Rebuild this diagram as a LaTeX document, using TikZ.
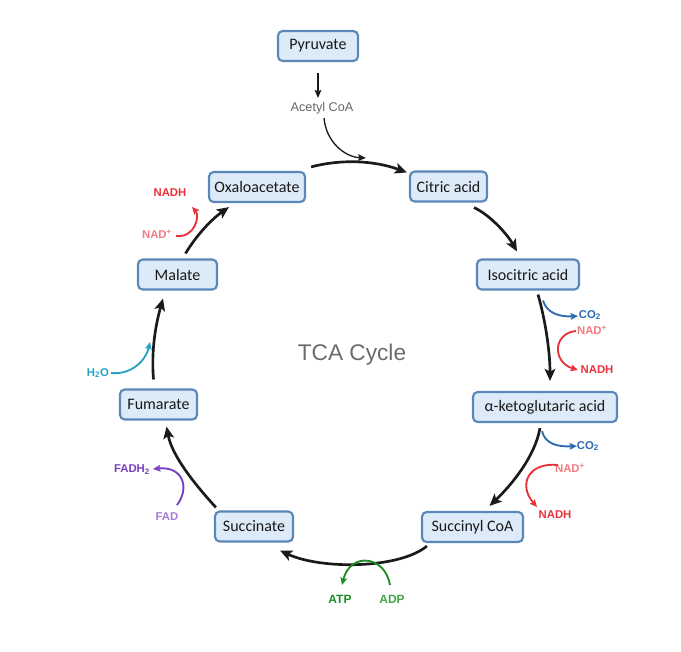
\documentclass[tikz,border=0pt]{standalone}
\usepackage{fontspec}
\setmainfont{Carlito}
\newfontfamily\labfont{Liberation Sans}
\usetikzlibrary{arrows.meta,calc}
\definecolor{boxfill}{HTML}{DDEBF8}
\definecolor{boxline}{HTML}{5A87B8}
\definecolor{nadhred}{HTML}{E8323C}
\definecolor{nadred}{HTML}{EF7D84}
\definecolor{co2blue}{HTML}{2E6BB0}
\definecolor{h2ocyan}{HTML}{27A2C4}
\definecolor{fadpurple}{HTML}{7A3FC2}
\definecolor{fadlight}{HTML}{A77BDA}
\definecolor{atpgreen}{HTML}{1F8B24}
\definecolor{adpgreen}{HTML}{45A34A}
\definecolor{arrowblack}{HTML}{1A1A1A}
\begin{document}
\begin{tikzpicture}[x=0.75pt,y=-0.75pt,
  metab/.style={draw=boxline, line width=1.6pt, fill=boxfill, rounded corners=3.5pt,
    minimum height=22.5pt, inner sep=0pt, font=\fontsize{12}{14}\selectfont, text=black!90},
  lab/.style={inner sep=0pt, font=\labfont\bfseries\fontsize{8.5}{10}\selectfont},
  mainarrow/.style={draw=arrowblack, line width=2pt, -{Stealth[length=9pt,width=8pt,inset=2pt]}},
  sidearrow/.style={line width=1.4pt, -{Stealth[length=5.5pt,width=5pt,inset=1pt]}},
  thinarrow/.style={draw=arrowblack, line width=1pt, -{Stealth[length=6pt,width=5pt,inset=1pt]}}]
\useasboundingbox (0,0) rectangle (681,651);

% metabolite boxes
\node[metab, minimum width=60pt] (pyr) at (318,46) {Pyruvate};
\node[metab, minimum width=72pt] (oxa) at (257,187) {Oxaloacetate};
\node[metab, minimum width=57.75pt] (cit) at (448.5,186.5) {Citric acid};
\node[metab, minimum width=76.5pt] (iso) at (528,274.5) {Isocitric acid};
\node[metab, minimum width=108pt] (akg) at (545,407) {α-ketoglutaric acid};
\node[metab, minimum width=75.75pt] (sca) at (472.5,527) {Succinyl CoA};
\node[metab, minimum width=58.5pt] (suc) at (254,526.5) {Succinate};
\node[metab, minimum width=57.75pt] (fum) at (158.5,404.5) {Fumarate};
\node[metab, minimum width=59.25pt] (mal) at (177.5,274.5) {Malate};

% centre title
\node[inner sep=0pt, font=\labfont\fontsize{17}{20}\selectfont, text=black!58] (title) at (352,355) {TCA Cycle};

% labels
\node[inner sep=0pt, font=\labfont\fontsize{9.5}{11}\selectfont, text=black!60] (acetyl) at (322,108) {Acetyl CoA};
\node[lab, text=nadhred] (nadhA) at (170,193) {NADH};
\node[lab, text=nadred] (nadA) at (157,234) {NAD\textsuperscript{+}};
\node[lab, text=co2blue] (co2A) at (590,315) {CO\textsubscript{2}};
\node[lab, text=nadred] (nadB) at (592,330) {NAD\textsuperscript{+}};
\node[lab, text=nadhred] (nadhB) at (597,370) {NADH};
\node[lab, text=co2blue] (co2B) at (588,446) {CO\textsubscript{2}};
\node[lab, text=nadred] (nadC) at (570,468) {NAD\textsuperscript{+}};
\node[lab, text=nadhred] (nadhC) at (555,515) {NADH};
\node[lab, text=h2ocyan] (h2o) at (98,373) {H\textsubscript{2}O};
\node[lab, text=fadpurple] (fadh) at (132,470) {FADH\textsubscript{2}};
\node[lab, text=fadlight] (fad) at (167,517) {FAD};
\node[lab, text=atpgreen, font=\labfont\bfseries\fontsize{9}{10}\selectfont] (atp) at (340,599) {ATP};
\node[lab, text=adpgreen, font=\labfont\bfseries\fontsize{9}{10}\selectfont] (adp) at (392,599) {ADP};

\coordinate (acin) at (366,158);
\coordinate (h2oin) at (150,342);

% pyruvate to acetyl CoA
\draw[thinarrow] ($(pyr.south)+(0,11)$) -- ($(acetyl)+(-4,-10)$);
\draw[thinarrow] ($(acetyl)+(2,10)$) .. controls +(2,24) and +(-21,-1) .. (acin);

% main cycle
\draw[mainarrow] ($(oxa.north east)+(5,-4)$) .. controls +(30,-8) and +(-33,-12) .. ($(cit.north west)+(-2,2)$);
\draw[mainarrow] ($(cit.south east)+(-14,5)$) .. controls +(17,8) and +(-9,-16) .. ($(iso.north)+(-11,-7)$);
\draw[mainarrow] ($(iso.south)+(10,4)$) .. controls +(7,24) and +(0,-30) .. ($(akg.north)+(5,-10)$);
\draw[mainarrow] ($(akg.south)+(-5,5)$) .. controls +(-5,28) and +(23,-22) .. ($(sca.north)+(17,-5)$);
\draw[mainarrow] ($(sca.south west)+(6,3)$) .. controls +(-28,23) and +(41,19) .. ($(suc.south east)+(-14,8)$);
\draw[mainarrow] ($(suc.north west)+(2,-3)$) .. controls +(-22,-24) and +(5.5,29) .. ($(fum.south)+(8,6)$);
\draw[mainarrow] ($(fum.north)+(-5,-9)$) .. controls +(-2.5,-30) and +(-7,25) .. ($(mal.south)+(-14.5,8)$);
\draw[mainarrow] ($(mal.north)+(8,-5)$) .. controls +(11.5,-19) and +(-17,12) .. ($(oxa.south west)+(21,4)$);

% side reactions
\draw[sidearrow, draw=nadhred] ($(nadA)+(19,2)$) .. controls +(19,2) and +(8,9) .. ($(nadhA)+(22,14)$);
\draw[sidearrow, draw=co2blue] ($(iso.south)+(15,10)$) .. controls +(4,13) and +(-18,1) .. ($(co2A)+(-12,1)$);
\draw[sidearrow, draw=nadhred] ($(nadB)+(-16,1)$) .. controls +(-23,2) and +(-26,-8) .. ($(nadhB)+(-19,0)$);
\draw[sidearrow, draw=co2blue] ($(akg.south)+(-3,8)$) .. controls +(3,13) and +(-19,1) .. ($(co2B)+(-11,0)$);
\draw[sidearrow, draw=nadhred] ($(nadC)+(-12,-3)$) .. controls +(-30,-3) and +(-19,-22) .. ($(nadhC)+(-18,-8)$);
\draw[sidearrow, draw=h2ocyan] ($(h2o)+(13,0)$) .. controls +(21,2) and +(-4,18) .. (h2oin);
\draw[sidearrow, draw=fadpurple] ($(fad)+(10,-12)$) .. controls +(13,-17) and +(30,-3) .. ($(fadh)+(21,-1)$);
\draw[sidearrow, draw=atpgreen] ($(adp)+(-2,-14)$) .. controls +(-5,-30) and +(8,-33) .. ($(atp)+(2,-14)$);
\end{tikzpicture}
\end{document}
